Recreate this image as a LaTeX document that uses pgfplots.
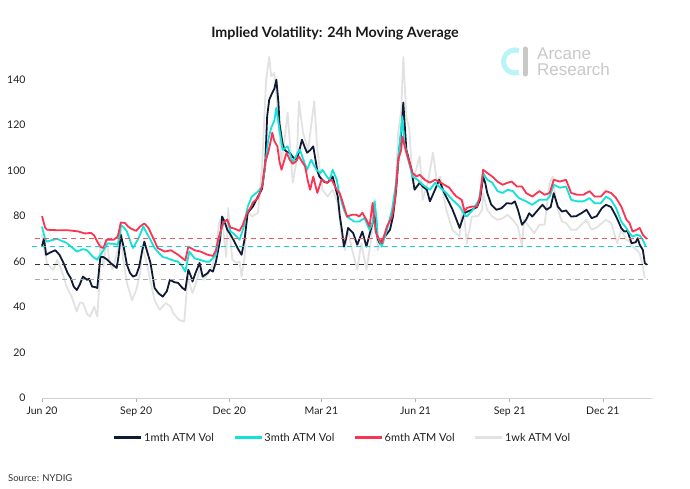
\documentclass[border=0pt]{standalone}
\usepackage{fontspec}
\setmainfont{Lato}
\newfontfamily\logofont{Liberation Sans}
\usepackage{pgfplots}
\pgfplotsset{compat=1.18}
\definecolor{c1m}{RGB}{16,27,51}
\definecolor{c3m}{RGB}{20,226,218}
\definecolor{c6m}{RGB}{250,52,82}
\definecolor{c1w}{RGB}{226,226,226}
\definecolor{d6m}{RGB}{235,90,100}
\definecolor{d3m}{RGB}{30,205,205}
\definecolor{d1m}{RGB}{50,50,55}
\definecolor{d1w}{RGB}{170,170,170}
\definecolor{logocyan}{RGB}{185,244,247}
\definecolor{logogray}{RGB}{200,200,200}
\begin{document}
\begin{tikzpicture}[x=1pt,y=1pt]
\path[use as bounding box] (0,0) rectangle (690,488);
\begin{axis}[
  at={(42pt,90pt)}, anchor=south west,
  width=610pt, height=341pt, scale only axis,
  xmin=0, xmax=596, ymin=0, ymax=150,
  clip=false,
  axis x line=bottom, axis y line=left,
  y axis line style={draw=none},
  x axis line style={draw=black!18, line width=0.8pt, -},
  ytick={0,20,40,60,80,100,120,140},
  xtick={0,92,183,273,365,457,548},
  xticklabels={Jun 20,Sep 20,Dec 20,Mar 21,Jun 21,Sep 21,Dec 21},
  ytick style={draw=none},
  xtick style={draw=black!30, line width=0.6pt},
  tick align=outside, major tick length=4pt,
  /pgf/number format/assume math mode=true,
  ticklabel style={font=\fontsize{10.5}{12}\selectfont, text=black!88},
  yticklabel style={xshift=-9pt},
  xticklabel style={yshift=-1pt},
  legend style={at={(0.492,-0.117)}, anchor=center, draw=none, fill=none,
    legend columns=4, font=\fontsize{11}{12}\selectfont, text=black!88,
    /tikz/every even column/.append style={column sep=18pt},
    nodes={inner sep=1.2pt}},
  legend image code/.code={\draw[#1, line width=3pt] (0pt,0pt) -- (27pt,0pt);},
  legend entries={1mth ATM Vol, 3mth ATM Vol, 6mth ATM Vol, 1wk ATM Vol},
]
\addlegendimage{c1m}
\addlegendimage{c3m}
\addlegendimage{c6m}
\addlegendimage{c1w}

% 1wk ATM Vol
\addplot[forget plot, c1w, line width=1.8pt, line join=round] coordinates {
(0,72) (2,66) (5,59) (11,56.4) (15,60.8) (20,55) (24,49) (29,44.6) (34,38) (37,42)
(40,41.8) (44,37) (47,35.8) (51,40.2) (54,35.8) (56,50) (57,68.8) (60,57.8) (63,69.6) (66,60)
(69,56.4) (74,65) (77,75.4) (79,62) (83,50.6) (88,43) (92,47.5) (96,55) (98,66.6) (102,60)
(105,53.4) (110,43) (115,38.8) (121,41.8) (126,40) (128,37.4) (134,34.3) (139,33.6) (141,45) (142,53.4)
(147,46.2) (150,50) (154,56.4) (158,52) (161,54) (166,57.8) (169,62) (173,77) (176,79.8) (178,70)
(180,62) (182,83.6) (184,70) (186,60.8) (190,59.4) (193,60) (195,53.4) (198,62) (200,82.8) (205,79.8)
(211,81.5) (215,101.9) (219,140) (222,150) (224,141.5) (227,143) (230,128.3) (234,103.5) (237,113.6) (240,125.5)
(245,94.7) (249,104.8) (251,130.5) (255,116.7) (260,109.2) (266,130.5) (269,109.2) (274,91.6) (279,88.6) (284,91.6)
(289,85.8) (293,71) (296,65) (299,74) (303,65) (308,56.4) (312,68) (317,56.4) (322,71) (325,87.2)
(328,65) (333,71) (340,74) (345,88.6) (348,116.7) (351,126.8) (353,150) (356,123.9) (359,118) (362,94.7)
(369,106.3) (372,87.2) (377,94.7) (382,107.9) (386,94.7) (389,97.4) (395,82.8) (401,74) (408,71) (411,87.2)
(415,68) (420,79.8) (426,80) (430,82.8) (431,90.1) (435,82.8) (440,79.8) (445,78.4) (450,79) (455,80.6)
(460,78.4) (465,75.4) (469,66.6) (471,78.4) (476,75.4) (481,72.5) (486,76.2) (491,76.2) (496,94.5) (499,97.4)
(503,84.2) (508,77.6) (512,77) (517,74) (522,74) (527,76.2) (532,78.4) (537,74) (542,75) (547,76.9)
(551,78.4) (556,77) (559,72.5) (562,68.1) (566,74) (571,69.6) (574,69) (577,66.6) (581,65.2) (584,63.7)
(587,57.8) (589,52.7)
};

% 1mth ATM Vol
\addplot[forget plot, c1m, line width=1.8pt, line join=round] coordinates {
(0,67) (2,70) (4,63) (8,64) (13,65) (17,63) (21,59.4) (25,55) (28,52.8) (31,49)
(34,47.5) (37,50) (40,53.4) (44,52) (46,52.5) (49,49) (52,48.8) (54,48.4) (57,62) (60,62)
(64,60.8) (68,59) (73,57.2) (75,63) (77,71.8) (80,66) (83,58.6) (86,55) (89,53.4) (92,54)
(95,57.8) (98,65) (100,68.8) (103,64) (106,59.4) (110,48.4) (114,46) (118,44.6) (122,47) (125,52)
(129,51) (133,50.6) (137,48.5) (140,47.5) (143,56.4) (146,53) (147,51.2) (150,55) (154,59.4) (157,53.4)
(162,55) (164,56.4) (167,55.6) (170,60) (174,69.6) (176,79.8) (178,78) (181,74) (184,72) (187,69.6)
(191,66) (195,63) (198,70) (201,81.5) (206,84.2) (211,88.6) (215,92) (218,101.9) (220,123.9) (222,131.2)
(225,134.3) (227,136) (229,140) (231,130) (232,121) (235,112) (237,109.2) (240,108) (242,107.9) (245,106)
(249,104.8) (252,110) (254,113.6) (257,110) (259,107.9) (262,109) (265,110.7) (269,100) (271,97.4) (276,95)
(279,94.7) (284,97.4) (287,92) (289,88.6) (291,80) (293,74) (295,66.6) (297,70) (299,74.8) (302,73.5)
(304,72.6) (308,67.4) (313,73.2) (317,66.6) (322,75.4) (325,80) (328,70) (330,68) (335,71) (340,74)
(343,80) (346,91.6) (349,109.2) (351,116.7) (353,130) (356,109.2) (361,100.4) (364,91.6) (369,94.7) (372,93)
(376,91.6) (379,86.5) (384,91.6) (388,96) (393,90.2) (398,85.8) (401,83) (405,78.4) (408,74.8) (413,81.5)
(420,82.8) (425,84) (428,87.2) (431,97.4) (433,94.7) (435,90.2) (439,85) (444,82.8) (449,83.5) (454,85.7)
(459,85.5) (462,86.5) (465,82.8) (469,76.2) (473,78.4) (476,81.3) (479,79.8) (486,83.5) (489,85) (493,82.8)
(497,84) (500,90.1) (504,84.2) (508,82) (512,82.5) (517,79.8) (522,80) (527,81.3) (532,82.8) (537,79.1)
(542,80) (547,83.5) (551,85) (556,84) (561,79.8) (566,74.7) (569,73.2) (572,73.5) (576,68.1) (580,68.5)
(582,70.3) (584,67.4) (587,65.2) (589,59.3) (591,58.6)
};

% 3mth ATM Vol
\addplot[forget plot, c3m, line width=1.8pt, line join=round] coordinates {
(0,75.4) (3,70) (5,68.8) (10,69.5) (15,70) (20,69) (24,68.2) (30,66) (34,64.4) (40,65.5)
(44,65) (50,62) (54,60.8) (57,63) (60,65) (64,68) (70,67.8) (74,67.4) (76,72) (77,76.2)
(80,75) (83,73.2) (87,68) (89,66) (94,70) (99,75.4) (103,72) (106,69.6) (110,66) (113,64.4)
(118,62) (122,61.6) (128,60.5) (133,60) (137,58) (140,55.6) (144,64.4) (149,61.5) (154,60.8) (160,60)
(164,60) (167,61.6) (170,63) (172,68.8) (177,77) (181,78.4) (184,73.5) (188,72) (193,69.6) (197,75)
(201,84.2) (205,88.6) (211,90.8) (215,93) (218,101.9) (221,113.6) (224,118.9) (227,122) (229,127.7) (232,118)
(235,109.2) (240,110.7) (245,103.5) (250,108) (252,109.2) (256,104) (259,100.4) (263,104.8) (268,100.4) (272,99)
(274,100.4) (279,97) (281,96) (284,100.4) (288,96) (290,91) (293,85.8) (295,82.8) (298,79.8) (305,77.6)
(310,77.6) (315,79.2) (320,74) (323,77) (325,86.5) (327,78) (328,71) (332,66.6) (337,74) (342,82.8)
(346,94.7) (349,109.2) (352,123.9) (354,112.3) (357,106.3) (362,97.4) (367,96) (372,93.8) (379,91.6) (384,94.7)
(388,93) (395,90.2) (401,87.2) (408,84.2) (413,80.5) (415,79.8) (421,82.8) (427,87.2) (431,99) (435,96)
(440,94.7) (445,91) (450,90.2) (455,91.6) (460,91) (466,87.9) (473,86.5) (479,85) (486,87.2) (493,87.2)
(496,88.6) (500,93.8) (506,92.5) (512,93) (517,87.2) (523,86.5) (529,86.5) (535,87.9) (540,85.7) (546,85.7)
(551,88.6) (556,87.2) (561,83.5) (566,77.6) (571,74.7) (574,72.6) (577,71) (581,71.8) (584,71.5) (587,69.6)
(590,66.6)
};

% 6mth ATM Vol
\addplot[forget plot, c6m, line width=1.8pt, line join=round] coordinates {
(0,80) (3,75) (5,74) (15,73.8) (25,73.8) (35,73.3) (42,72.4) (48,72.6) (51,71.5) (54,68.8)
(57,66.5) (60,66) (63,69.6) (70,69.6) (74,71) (77,77.2) (81,77) (84,75.5) (87,74.5) (92,73.5)
(96,75.5) (100,76.8) (104,74.8) (108,71) (113,66) (120,64.4) (126,65) (133,63) (140,60.5) (143,66.6)
(149,65) (155,64.4) (162,63) (167,62.5) (170,65) (172,69.6) (177,77) (181,78.5) (184,75) (188,74.5)
(193,73.5) (196,76) (200,81) (204,84) (206,86) (211,88) (215,93) (218,103.5) (221,108) (223,112)
(225,116.7) (227,113) (230,110.7) (232,104) (234,100.4) (237,105) (239,107.9) (242,104.8) (245,103) (248,104)
(251,106.3) (254,104) (257,101.9) (260,95) (262,91.6) (265,97.4) (269,90.2) (271,93) (273,96) (278,94.7)
(283,96) (288,91.6) (291,90) (294,85.8) (298,79.8) (303,80.6) (307,80.6) (310,79.8) (313,81.5) (317,78.4)
(320,75.4) (323,85.8) (326,73) (328,71) (332,68) (337,75.4) (342,79.8) (345,87.2) (348,104.8) (351,109.2)
(352,115) (356,107.9) (359,103.5) (362,99) (366,97.4) (369,98.2) (374,96) (379,94.7) (384,96) (388,95.2)
(393,93.8) (398,92.5) (402,90) (405,88.6) (410,87.2) (413,82) (415,83.6) (420,84.2) (425,84.2) (428,88.6)
(431,100.4) (435,99) (440,97.4) (445,95.2) (450,93.8) (455,94.7) (459,95.2) (464,93) (469,93) (473,90.2)
(479,88.6) (486,91) (491,89.4) (496,90.2) (500,96) (506,95.2) (512,96) (517,90.2) (523,89.4) (529,89.4)
(535,91) (540,88.6) (546,88.6) (551,91) (556,90.2) (561,87.9) (566,84.2) (571,78.4) (574,77) (577,73.2)
(581,74) (584,74.8) (587,71.8) (591,69.9)
};

% reference levels (latest values)
\addplot[forget plot, d6m, line width=1.1pt, dash pattern=on 5pt off 4pt] coordinates {(-7,70) (591,70)};
\addplot[forget plot, d3m, line width=1.1pt, dash pattern=on 5pt off 4pt] coordinates {(-10,66.6) (591,66.6)};
\addplot[forget plot, d1m, line width=1.1pt, dash pattern=on 5pt off 4pt] coordinates {(-7,58.6) (591,58.6)};
\addplot[forget plot, d1w, line width=1.1pt, dash pattern=on 5pt off 4pt] coordinates {(-7,52.3) (591,52.3)};
\end{axis}

% title
\node[font=\bfseries\fontsize{14.3}{16}\selectfont, text=black!90] at (335,455) {Implied Volatility: 24h Moving Average};

% logo
\draw[logocyan, line width=5pt] (515,426.5) ++(70:11.5) arc[start angle=70, end angle=290, radius=11.5];
\draw[logogray, line width=5pt, line cap=round] (525,439) -- (525,414);
\node[anchor=north west, inner sep=0pt, align=left, text=logogray, font=\logofont\fontsize{17}{15.5}\selectfont] at (537,440) {Arcane\\Research};

% source
\node[anchor=west, inner sep=0pt, font=\fontsize{9.5}{10}\selectfont, text=black!80] at (8,10) {Source: NYDIG};
\end{tikzpicture}
\end{document}
